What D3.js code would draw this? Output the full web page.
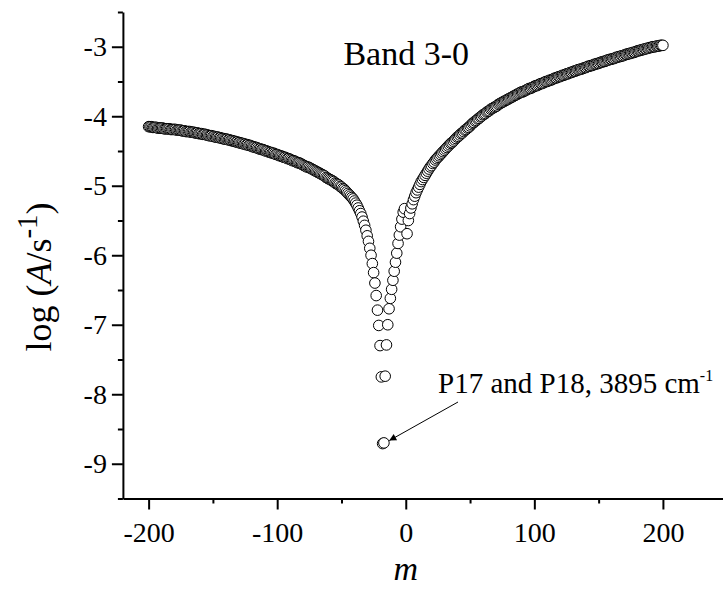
<!DOCTYPE html>
<html>
<head>
<meta charset="utf-8">
<script src="https://cdn.jsdelivr.net/npm/d3@7"></script>
<style>
body { margin: 0; background: #fff; }
</style>
</head>
<body>
<svg id="chart" width="723" height="589"></svg>
<script>
// P branch, m = -200 ... -1
var pStart = -200
var logP = [
  -4.15,-4.15,-4.15,-4.16,-4.16,-4.16,-4.16,-4.17,-4.17,-4.17,
  -4.17,-4.17,-4.18,-4.18,-4.18,-4.18,-4.18,-4.19,-4.19,-4.19,
  -4.19,-4.19,-4.20,-4.20,-4.20,-4.20,-4.21,-4.21,-4.21,-4.22,
  -4.22,-4.22,-4.22,-4.23,-4.23,-4.23,-4.24,-4.24,-4.24,-4.25,
  -4.25,-4.25,-4.26,-4.26,-4.26,-4.27,-4.27,-4.28,-4.28,-4.28,
  -4.29,-4.29,-4.30,-4.30,-4.30,-4.31,-4.31,-4.32,-4.32,-4.33,
  -4.33,-4.33,-4.34,-4.34,-4.35,-4.35,-4.36,-4.36,-4.37,-4.37,
  -4.38,-4.38,-4.39,-4.39,-4.40,-4.40,-4.41,-4.41,-4.42,-4.42,
  -4.43,-4.44,-4.44,-4.45,-4.45,-4.46,-4.47,-4.47,-4.48,-4.48,
  -4.49,-4.50,-4.50,-4.51,-4.52,-4.52,-4.53,-4.53,-4.54,-4.55,
  -4.55,-4.56,-4.57,-4.57,-4.58,-4.59,-4.59,-4.60,-4.61,-4.61,
  -4.62,-4.63,-4.64,-4.64,-4.65,-4.66,-4.67,-4.67,-4.68,-4.69,
  -4.70,-4.71,-4.72,-4.73,-4.73,-4.74,-4.75,-4.76,-4.77,-4.78,
  -4.79,-4.80,-4.81,-4.82,-4.83,-4.84,-4.85,-4.86,-4.88,-4.89,
  -4.90,-4.91,-4.92,-4.93,-4.94,-4.96,-4.97,-4.98,-4.99,-5.01,
  -5.02,-5.04,-5.05,-5.07,-5.09,-5.11,-5.13,-5.15,-5.17,-5.19,
  -5.22,-5.25,-5.28,-5.32,-5.36,-5.40,-5.45,-5.51,-5.57,-5.64,
  -5.72,-5.80,-5.90,-6.00,-6.12,-6.25,-6.40,-6.58,-6.79,-7.01,
  -7.30,-7.75,-8.71,-8.70,-7.74,-7.29,-7.00,-6.77,-6.62,-6.49,
  -6.36,-6.23,-6.10,-5.97,-5.83,-5.71,-5.59,-5.48,-5.38,-5.33
]
// R branch, m = 1 ... 200
var rStart = 1
var logR = [
  -5.69,-5.50,-5.40,-5.32,-5.26,-5.20,-5.15,-5.10,-5.06,-5.02,
  -4.98,-4.94,-4.91,-4.88,-4.85,-4.82,-4.79,-4.76,-4.73,-4.71,
  -4.68,-4.66,-4.63,-4.61,-4.59,-4.57,-4.55,-4.53,-4.51,-4.49,
  -4.47,-4.45,-4.43,-4.41,-4.39,-4.38,-4.36,-4.34,-4.32,-4.30,
  -4.29,-4.27,-4.25,-4.24,-4.22,-4.20,-4.19,-4.17,-4.16,-4.14,
  -4.12,-4.10,-4.09,-4.07,-4.06,-4.04,-4.03,-4.01,-4.00,-3.98,
  -3.97,-3.96,-3.94,-3.93,-3.92,-3.90,-3.89,-3.88,-3.87,-3.86,
  -3.85,-3.83,-3.82,-3.81,-3.80,-3.79,-3.78,-3.77,-3.76,-3.75,
  -3.74,-3.73,-3.72,-3.71,-3.70,-3.69,-3.68,-3.67,-3.66,-3.65,
  -3.65,-3.64,-3.63,-3.62,-3.61,-3.60,-3.60,-3.59,-3.58,-3.57,
  -3.56,-3.56,-3.55,-3.54,-3.53,-3.53,-3.52,-3.51,-3.50,-3.50,
  -3.49,-3.48,-3.48,-3.47,-3.46,-3.45,-3.45,-3.44,-3.43,-3.43,
  -3.42,-3.41,-3.41,-3.40,-3.39,-3.39,-3.38,-3.37,-3.37,-3.36,
  -3.35,-3.35,-3.34,-3.33,-3.33,-3.32,-3.32,-3.31,-3.30,-3.30,
  -3.29,-3.28,-3.28,-3.27,-3.27,-3.26,-3.25,-3.25,-3.24,-3.24,
  -3.23,-3.22,-3.22,-3.21,-3.21,-3.20,-3.19,-3.19,-3.18,-3.18,
  -3.17,-3.17,-3.16,-3.15,-3.15,-3.14,-3.14,-3.13,-3.13,-3.12,
  -3.11,-3.11,-3.10,-3.10,-3.09,-3.09,-3.08,-3.08,-3.07,-3.06,
  -3.06,-3.05,-3.05,-3.04,-3.04,-3.03,-3.03,-3.02,-3.02,-3.01,
  -3.01,-3.00,-3.00,-3.00,-2.99,-2.99,-2.99,-2.98,-2.98,-2.98
]
var xTicks = [-200, -100, 0, 100, 200]
var xMinor = [-150, -50, 50, 150]
var yTicks = [-9, -8, -7, -6, -5, -4, -3]
var yMinor = [-9.5, -8.5, -7.5, -6.5, -5.5, -4.5, -3.5, -2.5]
var bandLabel = 'Band 3-0'
var noteText = 'P17 and P18, 3895 cm'
var noteM = -17.5   // P17 / P18 pair
var noteLog = -8.71

var serif = 'Liberation Serif'
var svg = d3.select('#chart')
var x = d3.scaleLinear().domain([-220, 250]).range([122.9, 727.2])
var y = d3.scaleLinear().domain([-9.5, -2.5]).range([498.5, 12])

var points = []
logP.forEach(function (v, i) { points.push({ m: pStart + i, v: v }) })
logR.forEach(function (v, i) { points.push({ m: rStart + i, v: v }) })

// axes
var fmt = function (d) { return String(d) }
var gx = svg.append('g').attr('transform', 'translate(0,' + y(-9.5) + ')')
gx.call(d3.axisBottom(x).tickValues(xTicks).tickSize(11).tickPadding(13).tickSizeOuter(0).tickFormat(fmt))
gx.append('g').call(d3.axisBottom(x).tickValues(xMinor).tickSize(5).tickFormat(''))
  .select('.domain').remove()

var gy = svg.append('g').attr('transform', 'translate(' + x(-220) + ',0)')
gy.call(d3.axisLeft(y).tickValues(yTicks).tickSize(11).tickPadding(5).tickSizeOuter(0).tickFormat(fmt))
gy.append('g').call(d3.axisLeft(y).tickValues(yMinor).tickSize(5).tickFormat(''))
  .select('.domain').remove()

svg.selectAll('.domain').attr('stroke', '#000').attr('stroke-width', 2)
svg.selectAll('.tick line').attr('stroke', '#000').attr('stroke-width', 2)
svg.selectAll('.tick text')
   .attr('font-family', serif)
   .attr('font-size', 28)
   .attr('fill', '#000')
gx.attr('font-family', serif)
gy.attr('font-family', serif)

// points
svg.append('g').selectAll('circle')
   .data(points)
   .enter()
   .append('circle')
   .attr('cx', function (d) { return x(d.m) })
   .attr('cy', function (d) { return y(d.v) })
   .attr('r', 5.3)
   .attr('fill', '#fff')
   .attr('stroke', '#000')
   .attr('stroke-width', 1)

// titles
svg.append('text')
   .attr('x', x(0)).attr('y', 580)
   .attr('text-anchor', 'middle')
   .attr('font-family', serif)
   .attr('font-size', 34).attr('font-style', 'italic')
   .text('m')

var yt = svg.append('text')
   .attr('transform', 'translate(51,277) rotate(-90)')
   .attr('text-anchor', 'middle')
   .attr('font-family', serif)
   .attr('font-size', 36)
yt.append('tspan').text('log (')
yt.append('tspan').attr('font-style', 'italic').text('A')
yt.append('tspan').text('/s')
yt.append('tspan').attr('dy', -14).attr('font-size', 29).text('-1')
yt.append('tspan').attr('dy', 14).text(')')

svg.append('text')
   .attr('x', 469).attr('y', 65)
   .attr('text-anchor', 'end')
   .attr('font-family', serif)
   .attr('font-size', 34)
   .text(bandLabel)

// annotation
var nt = svg.append('text')
   .attr('x', 438).attr('y', 393)
   .attr('font-family', serif)
   .attr('font-size', 29)
nt.append('tspan').text(noteText)
nt.append('tspan').attr('dy', -12).attr('font-size', 16).text('-1')

svg.append('defs').append('marker')
   .attr('id', 'arrow')
   .attr('viewBox', '0 0 10 10')
   .attr('refX', 10).attr('refY', 5)
   .attr('markerWidth', 12).attr('markerHeight', 7)
   .attr('markerUnits', 'userSpaceOnUse')
   .attr('orient', 'auto')
   .append('path').attr('d', 'M0,0 L10,5 L0,10 Z').attr('fill', '#000')

svg.append('line')
   .attr('x1', 458).attr('y1', 402)
   .attr('x2', x(noteM) + 6).attr('y2', y(noteLog) - 3)
   .attr('stroke', '#000').attr('stroke-width', 1)
   .attr('marker-end', 'url(#arrow)')
</script>
</body>
</html>
